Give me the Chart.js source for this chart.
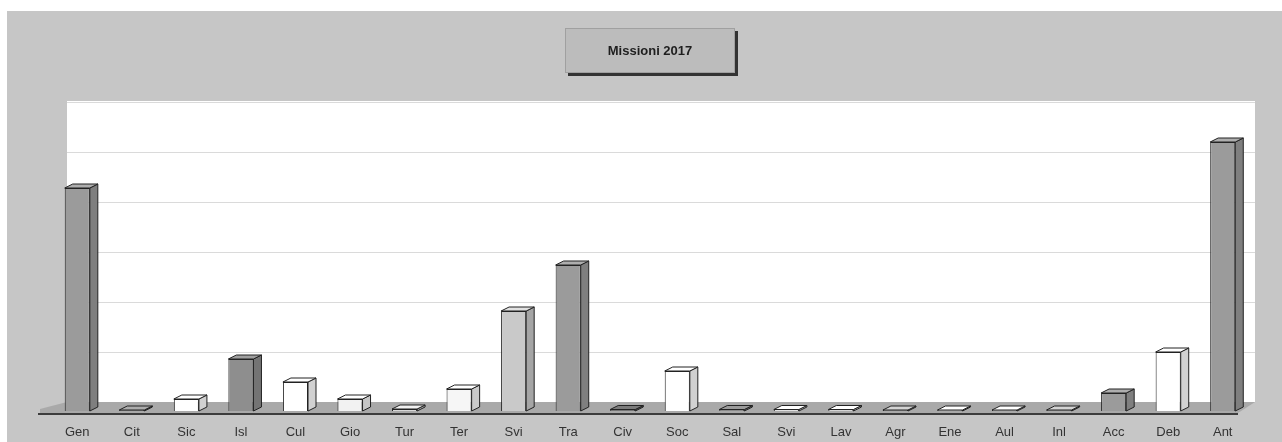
<!DOCTYPE html>
<html>
<head>
<meta charset="utf-8">
<script src="https://cdn.jsdelivr.net/npm/chart.js@4/dist/chart.umd.min.js"></script>
<style>
  body { margin: 0; background: #ffffff; }
  canvas { display: block; }
</style>
</head>
<body>
<canvas id="missioni-chart" width="1282" height="442"></canvas>
<script>
/* Data (no axis labels, so units are rough) */
let categories = ['Gen', 'Cit', 'Sic', 'Isl', 'Cul', 'Gio', 'Tur', 'Ter', 'Svi', 'Tra', 'Civ',
                  'Soc', 'Sal', 'Svi', 'Lav', 'Agr', 'Ene', 'Aul', 'Inl', 'Acc', 'Deb', 'Ant']
let missioni = [44.6, 0.2, 2.4, 10.4, 5.8, 2.4, 0.4, 4.4, 20, 29.2, 0.3,
                8, 0.3, 0.3, 0.3, 0.2, 0.2, 0.2, 0.2, 3.6, 11.8, 53.8]
let gridValues = [0, 10, 20, 30, 40, 50, 60]
let chartTitle = 'Missioni 2017'

/* Front colour of every bar */
let barColors = ['#9b9b9b', '#9a9a9a', '#ffffff', '#8e8e8e', '#ffffff', '#f2f2f2', '#d8d8d8', '#f6f6f6',
                 '#c9c9c9', '#9b9b9b', '#6e6e6e', '#ffffff', '#8a8a8a', '#ffffff', '#eeeeee', '#bdbdbd',
                 '#ffffff', '#ececec', '#bdbdbd', '#9b9b9b', '#ffffff', '#9b9b9b']

let depthX = 8, depthY = 4       // bar depth
let floorX = 17, floorY = 9      // floor depth

function shade(hex, f) {
    let n = parseInt(hex.slice(1), 16)
    let r = Math.min(255, Math.round(((n >> 16) & 255) * f))
    let g = Math.min(255, Math.round(((n >> 8) & 255) * f))
    let b = Math.min(255, Math.round((n & 255) * f))
    return 'rgb(' + r + ',' + g + ',' + b + ')'
}

/* Gray panel, white back wall, grid lines, floor, title box */
let backdrop = {
    id: 'backdrop',
    beforeDraw(chart) {
        let ctx = chart.ctx
        let area = chart.chartArea
        let y = chart.scales.y
        ctx.save()
        ctx.fillStyle = '#c6c6c6'
        ctx.fillRect(7, 11, chart.width - 7, chart.height - 11)

        // back wall
        let wallLeft = area.left + floorX
        let wallRight = area.right + 5
        let wallBottom = area.bottom - floorY
        ctx.fillStyle = '#ffffff'
        ctx.fillRect(wallLeft, area.top, wallRight - wallLeft, wallBottom - area.top)

        ctx.strokeStyle = '#dadada'
        ctx.lineWidth = 1
        gridValues.forEach(function(v) {
            if (v == 0) return
            let py = Math.round(y.getPixelForValue(v) - floorY) + 0.5
            ctx.beginPath()
            ctx.moveTo(wallLeft, py)
            ctx.lineTo(wallRight, py)
            ctx.stroke()
        })

        // floor
        ctx.fillStyle = '#a9a9a9'
        ctx.beginPath()
        ctx.moveTo(wallLeft, wallBottom)
        ctx.lineTo(wallRight, wallBottom)
        ctx.lineTo(wallRight - floorX, area.bottom + 2)
        ctx.lineTo(area.left - 10, area.bottom + 2)
        ctx.lineTo(area.left - 10, area.bottom - 2)
        ctx.closePath()
        ctx.fill()
        ctx.strokeStyle = '#3c3c3c'
        ctx.lineWidth = 2
        ctx.beginPath()
        ctx.moveTo(area.left - 12, area.bottom + 3)
        ctx.lineTo(wallRight - floorX, area.bottom + 3)
        ctx.stroke()

        // title box
        let cx = (area.left + area.right) / 2
        let bw = 170, bh = 45, by = 28
        ctx.fillStyle = '#333333'
        ctx.fillRect(cx - bw / 2 + 3, by + 3, bw, bh)
        ctx.fillStyle = '#bcbcbc'
        ctx.fillRect(cx - bw / 2, by, bw, bh)
        ctx.strokeStyle = '#a0a0a0'
        ctx.lineWidth = 1
        ctx.strokeRect(cx - bw / 2 + 0.5, by + 0.5, bw - 1, bh - 1)
        ctx.fillStyle = '#1e1e1e'
        ctx.font = 'bold 13px "Liberation Sans", Arial, sans-serif'
        ctx.textAlign = 'center'
        ctx.textBaseline = 'middle'
        ctx.fillText(chartTitle, cx, by + bh / 2 + 1)
        ctx.restore()
    }
}

/* Side and top faces of each bar, taken from the bar elements */
let bars3d = {
    id: 'bars3d',
    afterDatasetsDraw(chart) {
        let ctx = chart.ctx
        let meta = chart.getDatasetMeta(0)
        ctx.save()
        ctx.lineWidth = 1
        ctx.strokeStyle = '#222222'
        meta.data.forEach(function(bar, i) {
            let p = bar.getProps(['x', 'y', 'base', 'width'], true)
            let left = p.x - p.width / 2
            let right = p.x + p.width / 2
            let col = barColors[i % barColors.length]

            ctx.fillStyle = shade(col, 0.82)
            ctx.beginPath()
            ctx.moveTo(right, p.y)
            ctx.lineTo(right + depthX, p.y - depthY)
            ctx.lineTo(right + depthX, p.base - depthY)
            ctx.lineTo(right, p.base)
            ctx.closePath()
            ctx.fill()
            ctx.stroke()

            ctx.fillStyle = shade(col, 1.12)
            ctx.beginPath()
            ctx.moveTo(left, p.y)
            ctx.lineTo(left + depthX, p.y - depthY)
            ctx.lineTo(right + depthX, p.y - depthY)
            ctx.lineTo(right, p.y)
            ctx.closePath()
            ctx.fill()
            ctx.stroke()
        })
        ctx.restore()
    }
}

let chartCanvas = document.querySelector('#missioni-chart')
let ctx = chartCanvas.getContext('2d')

let missioniChart = new Chart(ctx, {
    type: 'bar',
    data: {
        labels: categories,
        datasets: [ {
            data: missioni,
            backgroundColor: barColors,
            borderColor: '#222222',
            borderWidth: 1,
            barPercentage: 0.46,
            categoryPercentage: 1
        } ]
    },
    options: {
        responsive: false,
        animation: false,
        devicePixelRatio: 1,
        layout: { padding: { left: 50, right: 32, top: 101, bottom: 0 } },
        plugins: {
            legend: { display: false },
            tooltip: { enabled: false }
        },
        scales: {
            x: {
                grid: { display: false, drawTicks: false },
                border: { display: false },
                afterFit: function(scale) { scale.height = 31 },
                ticks: {
                    color: '#333333',
                    padding: 14,
                    maxRotation: 0,
                    autoSkip: false,
                    font: { family: '"Liberation Sans", Arial, sans-serif', size: 13 }
                }
            },
            y: {
                display: false,
                min: 0,
                max: 62
            }
        }
    },
    plugins: [backdrop, bars3d]
})
</script>
</body>
</html>
